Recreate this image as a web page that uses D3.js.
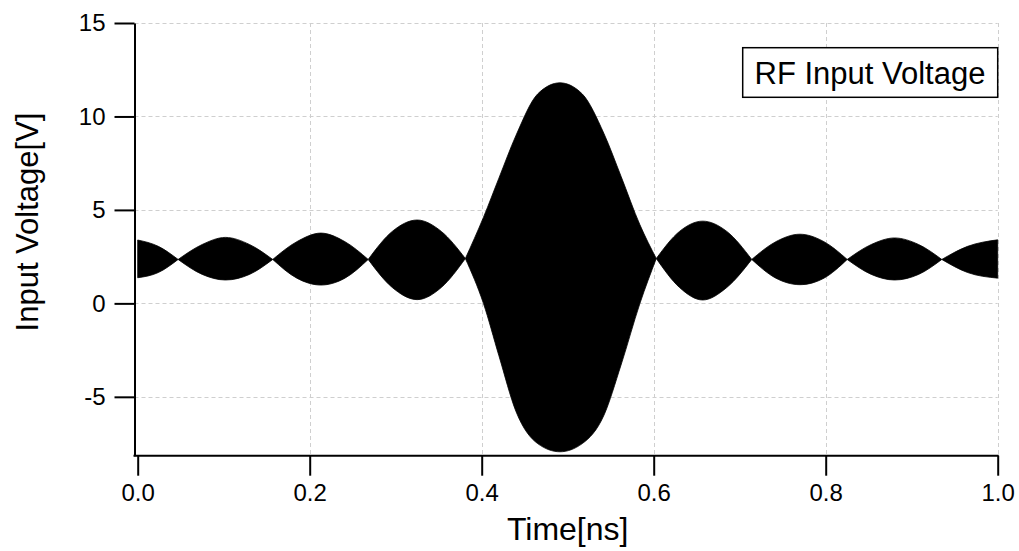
<!DOCTYPE html>
<html>
<head>
<meta charset="utf-8">
<script src="https://cdn.jsdelivr.net/npm/d3@7"></script>
<style>
  html, body { margin: 0; padding: 0; background: #fff; }
  svg { display: block; font-family: "Liberation Sans", Arial, sans-serif; }
</style>
</head>
<body>
<div id="chart"></div>
<script>
// envelope of the RF signal (ns, V)
const timeNs = [0, 0.024, 0.047, 0.075, 0.102, 0.13, 0.157, 0.185, 0.213, 0.241, 0.268,
  0.296, 0.325, 0.353, 0.381, 0.402, 0.42, 0.44, 0.465, 0.491, 0.517, 0.542, 0.562, 0.584,
  0.603, 0.63, 0.657, 0.685, 0.714, 0.742, 0.77, 0.798, 0.825, 0.853, 0.88, 0.908, 0.935,
  0.965, 1.0];
const upperV = [3.39, 3.05, 2.35, 3.15, 3.53, 3.15, 2.35, 3.3, 3.76, 3.3, 2.35,
  3.85, 4.46, 3.85, 2.4, 4.6, 6.7, 9.0, 11.2, 11.8, 11.2, 9.1, 6.8, 4.2,
  2.4, 3.85, 4.4, 3.85, 2.35, 3.3, 3.7, 3.3, 2.35, 3.15, 3.5, 3.15, 2.35,
  3.05, 3.4];
const lowerV = [1.37, 1.65, 2.35, 1.55, 1.25, 1.55, 2.35, 1.35, 0.98, 1.35, 2.35,
  0.85, 0.2, 0.85, 2.4, 0.0, -2.8, -5.8, -7.5, -7.94, -7.5, -6.0, -3.3, 0.0,
  2.4, 0.85, 0.18, 0.85, 2.35, 1.35, 1.0, 1.35, 2.35, 1.55, 1.25, 1.55, 2.35,
  1.65, 1.35];

const xTicks = [0, 0.2, 0.4, 0.6, 0.8, 1.0];
const yTicks = [-5, 0, 5, 10, 15];
const legendLabel = "RF Input Voltage";

const W = 1019, H = 551;
const svg = d3.select("#chart").append("svg")
  .attr("width", W)
  .attr("height", H);

const x = d3.scaleLinear().domain([0, 1]).range([137.7, 997.7]);
const y = d3.scaleLinear().domain([-8.15, 15]).range([455.7, 23]);
const axisX = 134.5;

// grid
const grid = svg.append("g")
  .attr("stroke", "#cfcfcf")
  .attr("stroke-width", 1)
  .attr("stroke-dasharray", "4,3");
grid.selectAll(".gx")
  .data(xTicks.filter(d => d > 0))
  .enter().append("line")
  .attr("x1", d => Math.round(x(d)) + 0.5)
  .attr("x2", d => Math.round(x(d)) + 0.5)
  .attr("y1", y(15))
  .attr("y2", y.range()[0]);
grid.selectAll(".gy")
  .data(yTicks)
  .enter().append("line")
  .attr("x1", axisX)
  .attr("x2", x(1))
  .attr("y1", d => Math.round(y(d)) + 0.5)
  .attr("y2", d => Math.round(y(d)) + 0.5);

// split the envelope into lobes at the nodes so the nodes stay pointed
const pts = timeNs.map((t, i) => ({ t: t, hi: upperV[i], lo: lowerV[i] }));
const lobes = [];
let cur = [pts[0]];
for (let i = 1; i < pts.length; i++) {
  cur.push(pts[i]);
  if (Math.abs(pts[i].hi - pts[i].lo) < 0.1 && i < pts.length - 1) {
    lobes.push(cur);
    cur = [pts[i]];
  }
}
lobes.push(cur);

const area = d3.area()
  .x(d => x(d.t))
  .y0(d => y(d.lo))
  .y1(d => y(d.hi))
  .curve(d3.curveMonotoneX);

svg.append("g").selectAll("path")
  .data(lobes)
  .enter().append("path")
  .attr("d", area)
  .attr("fill", "#000")
  .attr("stroke", "#000")
  .attr("stroke-width", 0.8);

// y axis
const yAxis = svg.append("g")
  .attr("transform", `translate(${axisX},0)`)
  .call(d3.axisLeft(y).tickValues(yTicks).tickFormat(d => String(d))
    .tickSize(20).tickSizeOuter(0).tickPadding(9));
yAxis.select(".domain").attr("stroke-width", 2);
yAxis.selectAll(".tick line").attr("stroke-width", 2);
yAxis.selectAll(".tick text")
  .attr("font-size", "24px")
  .attr("font-family", "Liberation Sans, Arial, sans-serif")
  .attr("fill", "#000");

// x axis
const xAxis = svg.append("g")
  .attr("transform", `translate(0,${y.range()[0]})`)
  .call(d3.axisBottom(x).tickValues(xTicks).tickFormat(d3.format(".1f"))
    .tickSize(20).tickSizeOuter(0).tickPadding(8));
xAxis.select(".domain").remove();
xAxis.append("line")
  .attr("x1", axisX - 1)
  .attr("x2", x(1) + 1)
  .attr("stroke", "#000")
  .attr("stroke-width", 2);
xAxis.selectAll(".tick line").attr("stroke-width", 2);
xAxis.selectAll(".tick text")
  .attr("font-size", "24px")
  .attr("font-family", "Liberation Sans, Arial, sans-serif")
  .attr("fill", "#000");

// titles
svg.append("text")
  .attr("x", (x(0) + x(1)) / 2)
  .attr("y", 540)
  .attr("text-anchor", "middle")
  .attr("font-size", "32px")
  .text("Time[ns]");

svg.append("text")
  .attr("transform", "translate(38,222) rotate(-90)")
  .attr("text-anchor", "middle")
  .attr("font-size", "31px")
  .text("Input Voltage[V]");

// legend box
const legend = svg.append("g");
legend.append("rect")
  .attr("x", 742.7)
  .attr("y", 47.7)
  .attr("width", 255)
  .attr("height", 49.6)
  .attr("fill", "#fff")
  .attr("stroke", "#000")
  .attr("stroke-width", 1.5);
legend.append("text")
  .attr("x", 870)
  .attr("y", 84)
  .attr("text-anchor", "middle")
  .attr("font-size", "31px")
  .text(legendLabel);
</script>
</body>
</html>
